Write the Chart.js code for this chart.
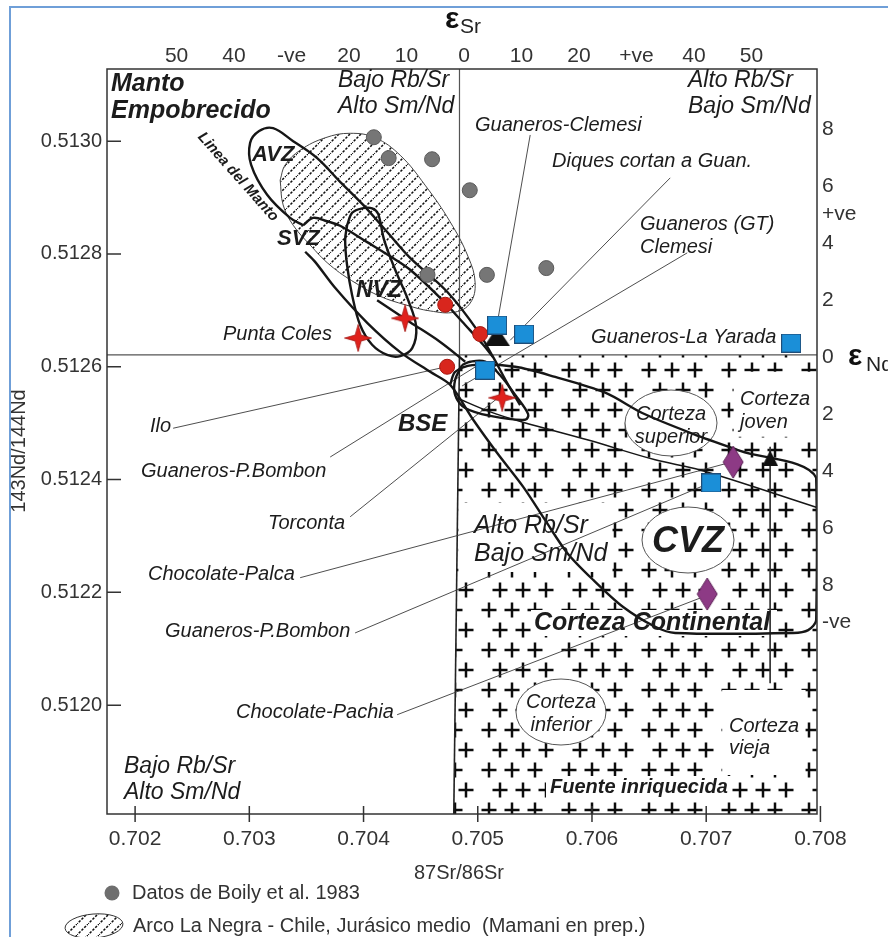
<!DOCTYPE html>
<html>
<head>
<meta charset="utf-8">
<script src="https://cdn.jsdelivr.net/npm/chart.js@4.4.1/dist/chart.umd.min.js"></script>
<style>
  html, body { margin: 0; padding: 0; background: #fff; }
  canvas { display: block; }
</style>
</head>
<body>
<canvas id="c" width="888" height="937"></canvas>
<script>
const FONT = '"Liberation Sans", Arial, Helvetica, sans-serif';
const INK = '#161616';

// axis ticks
const srTicks = [0.702, 0.703, 0.704, 0.705, 0.706, 0.707, 0.708];
const ndTicks = [0.5120, 0.5122, 0.5124, 0.5126, 0.5128, 0.5130];
const eSrTicks = [-50, -40, -30, -20, -10, 0, 10, 20, 30, 40, 50];
const eSrLabels = ['50', '40', '-ve', '20', '10', '0', '10', '20', '+ve', '40', '50'];
const eNdTicks = [8, 6, 5, 4, 2, 0, -2, -4, -6, -8, -9.3];
const eNdLabels = ['8', '6', '+ve', '4', '2', '0', '2', '4', '6', '8', '-ve'];

// samples (87Sr/86Sr, 143Nd/144Nd)
const boilySr = [0.70409, 0.70422, 0.70460, 0.70493, 0.70456, 0.70508, 0.70560];
const boilyNd = [0.513007, 0.512970, 0.512968, 0.512913, 0.512763, 0.512763, 0.512775];
const redDotSr = [0.704715, 0.705021, 0.704732];
const redDotNd = [0.512710, 0.512658, 0.512600];
const starSr = [0.703953, 0.704364, 0.705214];
const starNd = [0.512651, 0.512686, 0.512545];
const squareSr = [0.705170, 0.705406, 0.705065, 0.707744, 0.707044];
const squareNd = [0.512674, 0.512658, 0.512594, 0.512642, 0.512394];
const triSr = [0.705170, 0.707560];
const triNd = [0.512647, 0.512438];
const diamondSr = [0.707236, 0.707009];
const diamondNd = [0.512431, 0.512197];

// fields
const negraSr = [0.703270, 0.703296, 0.703384, 0.703532, 0.703708, 0.703926, 0.704145, 0.704364, 0.704583, 0.704802, 0.704934,
  0.704977, 0.704916, 0.704758, 0.704539, 0.704321, 0.704102, 0.703883, 0.703664, 0.703445, 0.703314, 0.703270];
const negraNd = [0.512931, 0.512887, 0.512851, 0.512816, 0.512780, 0.512749, 0.512725, 0.512710, 0.512699, 0.512697, 0.512713,
  0.512749, 0.512795, 0.512857, 0.512922, 0.512975, 0.513006, 0.513014, 0.513006, 0.512984, 0.512958, 0.512931];

const avzOuterSr = [0.703471, 0.703357, 0.703156, 0.703016, 0.703007, 0.703086, 0.703208, 0.703384, 0.703594, 0.703795,
  0.703997, 0.704207, 0.704408, 0.704732, 0.704995, 0.705135, 0.705258, 0.705371];
const avzOuterNd = [0.512851, 0.512864, 0.512905, 0.512958, 0.512997, 0.513018, 0.513023, 0.513000, 0.512970, 0.512928,
  0.512887, 0.512839, 0.512793, 0.512733, 0.512665, 0.512617, 0.512571, 0.512532];
const avzInnerSr = [0.703471, 0.703559, 0.703681, 0.703795, 0.704032, 0.704233, 0.704408, 0.704671, 0.704890, 0.705047, 0.705135];
const avzInnerNd = [0.512851, 0.512864, 0.512858, 0.512850, 0.512821, 0.512796, 0.512772, 0.512722, 0.512674, 0.512639, 0.512617];

const nvzSr = [0.703856, 0.703900, 0.703988, 0.704075, 0.704128, 0.704180, 0.704277, 0.704391, 0.704461, 0.704426,
  0.704321, 0.704207, 0.704075, 0.703970, 0.703900, 0.703856, 0.703839, 0.703856];
const nvzNd = [0.512851, 0.512873, 0.512881, 0.512881, 0.512871, 0.512825, 0.512772, 0.512718, 0.512671, 0.512633,
  0.512619, 0.512621, 0.512639, 0.512674, 0.512727, 0.512780, 0.512825, 0.512851];

const cvzSr = [0.703489, 0.703576, 0.703751, 0.704032, 0.704321, 0.704583, 0.704758, 0.704960, 0.705170, 0.705398,
  0.705590, 0.705783, 0.706011, 0.706273, 0.706553, 0.706729, 0.707762, 0.707893, 0.707963, 0.707963,
  0.707298, 0.706860, 0.706440, 0.706116, 0.705678, 0.705328, 0.704951, 0.704802, 0.704758];
const cvzNd = [0.512804, 0.512786, 0.512740, 0.512678, 0.512626, 0.512591, 0.512568, 0.512506, 0.512447, 0.512387,
  0.512328, 0.512270, 0.512222, 0.512174, 0.512139, 0.512128, 0.512128, 0.512133, 0.512151, 0.512403,
  0.512451, 0.512483, 0.512518, 0.512554, 0.512582, 0.512600, 0.512603, 0.512591, 0.512568];

const bseSr = [0.704863, 0.704802, 0.704802, 0.704890, 0.705109, 0.705415, 0.705441, 0.705328, 0.705196, 0.705065, 0.704934, 0.704863];
const bseNd = [0.512603, 0.512577, 0.512550, 0.512527, 0.512513, 0.512506, 0.512516, 0.512550, 0.512585, 0.512609, 0.512609, 0.512603];

const crustLineSr = [0.704802, 0.705109, 0.705389, 0.705967, 0.706553, 0.706948, 0.707963];
const crustLineNd = [0.512546, 0.512520, 0.512502, 0.512470, 0.512435, 0.512417, 0.512351];
const nvzTailSr = [0.704119, 0.704408, 0.704671, 0.704890];
const nvzTailNd = [0.512718, 0.512679, 0.512644, 0.512609];

// crust block and its blank patches
const crustSr = [0.70484, 0.70797, 0.70797, 0.70479, 0.70484];
const crustNd = [0.512621, 0.512621, 0.511807, 0.511807, 0.512621];
const jovenSr = [0.70724, 0.70797, 0.70797, 0.70724, 0.70724];
const jovenNd = [0.512591, 0.512591, 0.512476, 0.512476, 0.512591];
const viejaSr = [0.70714, 0.70787, 0.70787, 0.70714, 0.70714];
const viejaNd = [0.512027, 0.512027, 0.511876, 0.511876, 0.512027];
const altoSr = [0.70483, 0.70618, 0.70618, 0.70483, 0.70483];
const altoNd = [0.512359, 0.512359, 0.512236, 0.512236, 0.512359];

// reference lines
const chur = 0.512621;
const bulkSr = 0.70484;

// label leaders: start (label end) and end (sample)
const leadFromSr = [0.702333, 0.703708, 0.703883, 0.703445, 0.703926, 0.704294, 0.705459, 0.706685, 0.706834];
const leadFromNd = [0.512491, 0.512440, 0.512334, 0.512226, 0.512128, 0.511983, 0.513011, 0.512935, 0.512802];
const leadToSr = [0.704680, 0.705004, 0.705196, 0.707166, 0.706974, 0.706948, 0.705179, 0.705284, 0.704863];
const leadToNd = [0.512598, 0.512603, 0.512548, 0.512428, 0.512389, 0.512190, 0.512687, 0.512647, 0.512566];

// text on the diagram
const notes = [
  ['Manto', 111, 84, 'italic bold 25px'], ['Empobrecido', 111, 111, 'italic bold 25px'],
  ['Bajo Rb/Sr', 338, 81, 'italic 23px'], ['Alto Sm/Nd', 338, 107, 'italic 23px'],
  ['Alto Rb/Sr', 688, 81, 'italic 23px'], ['Bajo Sm/Nd', 688, 107, 'italic 23px'],
  ['Guaneros-Clemesi', 475, 125, 'italic 20px'], ['Diques cortan a Guan.', 552, 161, 'italic 20px'],
  ['Guaneros (GT)', 640, 224, 'italic 20px'], ['Clemesi', 640, 247, 'italic 20px'],
  ['Guaneros-La Yarada', 591, 337, 'italic 20px'], ['Punta Coles', 223, 334, 'italic 20px'],
  ['Ilo', 150, 426, 'italic 20px'], ['Guaneros-P.Bombon', 141, 471, 'italic 20px'],
  ['Torconta', 268, 523, 'italic 20px'], ['Chocolate-Palca', 148, 574, 'italic 20px'],
  ['Guaneros-P.Bombon', 165, 631, 'italic 20px'], ['Chocolate-Pachia', 236, 712, 'italic 20px'],
  ['Bajo Rb/Sr', 124, 767, 'italic 23px'], ['Alto Sm/Nd', 124, 793, 'italic 23px'],
  ['Alto Rb/Sr', 474, 526, 'italic 25px'], ['Bajo Sm/Nd', 474, 554, 'italic 25px'],
  ['BSE', 398, 424, 'italic bold 24px'], ['AVZ', 252, 155, 'italic bold 22px'],
  ['SVZ', 277, 239, 'italic bold 22px'], ['NVZ', 356, 291, 'italic bold 23px'],
  ['CVZ', 688, 542, 'italic bold 36px', 'center'], ['Corteza Continental', 534, 623, 'italic bold 25px'],
  ['Corteza', 671, 414, 'italic 20px', 'center'], ['superior', 671, 437, 'italic 20px', 'center'],
  ['Corteza', 740, 399, 'italic 20px'], ['joven', 740, 422, 'italic 20px'],
  ['Corteza', 561, 702, 'italic 20px', 'center'], ['inferior', 561, 725, 'italic 20px', 'center'],
  ['Corteza', 729, 726, 'italic 20px'], ['vieja', 729, 748, 'italic 20px'],
  ['Fuente inriquecida', 550, 787, 'italic bold 20px']
];
const rings = [[671, 423, 46, 33], [688, 540, 46, 33], [561, 712, 45, 33]];
const blanks = [[531, 610, 246, 26], [546, 776, 186, 22]];

const canvas = document.getElementById('c');
const ctx = canvas.getContext('2d');

function tile(w, h, paint) {
  const c = document.createElement('canvas');
  c.width = w; c.height = h;
  paint(c.getContext('2d'));
  return c;
}

const plusFill = ctx.createPattern(tile(80, 40, g => {
  g.strokeStyle = '#0c0c0c';
  g.lineWidth = 2.5;
  const plus = (x, y) => {
    g.beginPath();
    g.moveTo(x - 7.5, y); g.lineTo(x + 7.5, y);
    g.moveTo(x, y - 7.5); g.lineTo(x, y + 7.5);
    g.stroke();
  };
  [9, 32, 55].forEach(x => plus(x, 10));
  [20, 43, 66].forEach(x => plus(x, 30));
}), 'repeat');

const hatchFill = ctx.createPattern(tile(11, 11, g => {
  g.strokeStyle = '#111';
  g.lineWidth = 1.6;
  g.setLineDash([2.4, 1.5]);
  g.beginPath();
  g.moveTo(-1, 12); g.lineTo(12, -1);
  g.stroke();
}), 'repeat');

const starImg = tile(28, 28, g => {
  g.translate(14, 14);
  g.beginPath();
  for (let i = 0; i < 8; i++) {
    const a = -Math.PI / 2 + i * Math.PI / 4;
    const r = i % 2 ? 4.2 : 13.5;
    g.lineTo(r * Math.cos(a), r * Math.sin(a));
  }
  g.closePath();
  g.fillStyle = '#e0211c';
  g.fill();
  g.strokeStyle = '#a31410';
  g.lineWidth = 0.8;
  g.stroke();
});
const squareImg = tile(20, 19, g => {
  g.fillStyle = '#1b8fd8';
  g.fillRect(0.5, 0.5, 19, 18);
  g.strokeStyle = '#1f4d78';
  g.lineWidth = 1;
  g.strokeRect(0.5, 0.5, 19, 18);
});
const trapImg = tile(26, 12, g => {
  g.beginPath();
  g.moveTo(8, 0); g.lineTo(18, 0); g.lineTo(26, 12); g.lineTo(0, 12);
  g.closePath();
  g.fillStyle = '#111';
  g.fill();
});
const triImg = tile(16, 16, g => {
  g.beginPath();
  g.moveTo(8, 0); g.lineTo(16, 16); g.lineTo(0, 16);
  g.closePath();
  g.fillStyle = '#111';
  g.fill();
});
const diamondImg = tile(22, 34, g => {
  g.beginPath();
  g.moveTo(11, 1); g.lineTo(21, 17); g.lineTo(11, 33); g.lineTo(1, 17);
  g.closePath();
  g.fillStyle = '#8d3a85';
  g.fill();
  g.strokeStyle = '#5e2358';
  g.lineWidth = 1;
  g.stroke();
});

function pts(xs, ys) {
  return xs.map((x, i) => ({ x: x, y: ys[i] }));
}

function shape(label, xs, ys, opts) {
  return Object.assign({
    label: label,
    data: pts(xs, ys),
    showLine: true,
    pointRadius: 0,
    borderColor: INK,
    borderWidth: 2.4,
    tension: 0.35,
    fill: false,
    order: 50
  }, opts);
}

function marks(label, xs, ys, opts) {
  return Object.assign({
    label: label,
    data: pts(xs, ys),
    showLine: false,
    pointRadius: 8,
    borderWidth: 1
  }, opts);
}

const clear = 'rgba(0,0,0,0)';
const datasets = [
  shape('crust', crustSr, crustNd, { fill: 'shape', backgroundColor: plusFill, borderColor: clear, tension: 0, order: 100 }),
  shape('joven', jovenSr, jovenNd, { fill: 'shape', backgroundColor: '#fff', borderColor: clear, tension: 0, order: 95 }),
  shape('vieja', viejaSr, viejaNd, { fill: 'shape', backgroundColor: '#fff', borderColor: clear, tension: 0, order: 95 }),
  shape('alto', altoSr, altoNd, { fill: 'shape', backgroundColor: '#fff', borderColor: clear, tension: 0, order: 95 }),
  shape('negra', negraSr, negraNd, { fill: 'shape', backgroundColor: hatchFill, borderColor: '#444', borderWidth: 1, tension: 0.4, order: 90 }),
  shape('chur', [0.701754, 0.70797], [chur, chur], { borderColor: '#555', borderWidth: 1.2, tension: 0, order: 70 }),
  shape('bulk', [bulkSr, bulkSr], [chur, 0.513128], { borderColor: '#555', borderWidth: 1.2, tension: 0, order: 70 }),
  shape('crustEdge', [0.70484, 0.70479], [chur, 0.511807], { borderColor: '#222', borderWidth: 1.6, tension: 0, order: 70 }),
  shape('split', [0.70756, 0.70756], [0.512458, 0.512039], { borderColor: '#333', borderWidth: 1, tension: 0, order: 70 }),
  ...leadFromSr.map((s, i) => shape('lead' + i, [s, leadToSr[i]], [leadFromNd[i], leadToNd[i]],
    { borderColor: '#3a3a3a', borderWidth: 0.9, tension: 0, order: 60 })),
  shape('avzOuter', avzOuterSr, avzOuterNd),
  shape('avzInner', avzInnerSr, avzInnerNd),
  shape('nvz', nvzSr, nvzNd),
  shape('cvz', cvzSr, cvzNd, { tension: 0.3 }),
  shape('bse', bseSr, bseNd),
  shape('crustLine', crustLineSr, crustLineNd, { borderWidth: 1.5 }),
  shape('nvzTail', nvzTailSr, nvzTailNd),
  marks('boily', boilySr, boilyNd, { backgroundColor: '#767676', borderColor: '#5a5a5a', pointRadius: 7.5, order: 5 }),
  marks('redDot', redDotSr, redDotNd, { backgroundColor: '#d8261d', borderColor: '#a8170f', pointRadius: 7.5, order: 4 }),
  marks('square', squareSr, squareNd, { pointStyle: squareImg, order: 3 }),
  marks('tri', triSr, triNd, { pointStyle: [trapImg, triImg], order: 3 }),
  marks('diamond', diamondSr, diamondNd, { pointStyle: diamondImg, order: 3 }),
  marks('star', starSr, starNd, { pointStyle: starImg, order: 2 })
];

function put(g, text, x, y, font, align, color) {
  g.font = font + ' ' + FONT;
  g.textAlign = align || 'left';
  g.textBaseline = 'middle';
  g.fillStyle = color || '#1c1c1c';
  g.fillText(text, x, y);
}

const decor = {
  id: 'decor',
  afterDatasetDraw(chart, args) {
    if (chart.data.datasets[args.index].label !== 'negra') return;
    const g = chart.ctx;
    g.save();
    g.fillStyle = '#fff';
    blanks.forEach(([x, y, w, h]) => g.fillRect(x, y, w, h));
    rings.forEach(([cx, cy, rx, ry]) => {
      g.beginPath();
      g.ellipse(cx, cy, rx, ry, 0, 0, Math.PI * 2);
      g.fillStyle = '#fff';
      g.fill();
      g.strokeStyle = '#555';
      g.lineWidth = 1;
      g.stroke();
    });
    g.restore();
  },
  afterDraw(chart) {
    const g = chart.ctx;
    const a = chart.chartArea;
    const { x, y } = chart.scales;
    g.save();

    // plot frame and inner ticks
    g.strokeStyle = '#333';
    g.lineWidth = 1.5;
    g.strokeRect(a.left, a.top, a.right - a.left, a.bottom - a.top);
    g.beginPath();
    x.ticks.forEach(t => {
      const px = x.getPixelForValue(t.value);
      g.moveTo(px, a.bottom - 8); g.lineTo(px, a.bottom + 8);
    });
    y.ticks.forEach(t => {
      const py = y.getPixelForValue(t.value);
      g.moveTo(a.left, py); g.lineTo(a.left + 14, py);
    });
    g.stroke();

    notes.forEach(([t, nx, ny, f, al]) => put(g, t, nx, ny, f, al));

    // Linea del Manto
    g.save();
    g.translate(238, 177);
    g.rotate(0.846);
    put(g, 'Linea del Manto', 0, 0, 'italic bold 15px', 'center');
    g.restore();

    // epsilon headers
    put(g, 'ε', 445, 20, 'bold 30px', 'left', '#111');
    put(g, 'Sr', 460, 27, '21px', 'left', '#222');
    put(g, 'ε', 848, 357, 'bold 30px', 'left', '#111');
    put(g, 'Nd', 866, 365, '21px', 'left', '#222');

    // axis titles
    put(g, '87Sr/86Sr', 459, 873, '20px', 'center', '#333');
    g.save();
    g.translate(19, 451);
    g.rotate(-Math.PI / 2);
    put(g, '143Nd/144Nd', 0, 0, '20px', 'center', '#333');
    g.restore();

    // legend
    g.beginPath();
    g.arc(112, 893, 7.5, 0, Math.PI * 2);
    g.fillStyle = '#6e6e6e';
    g.fill();
    put(g, 'Datos de Boily et al. 1983', 132, 893, '20px', 'left', '#333');
    g.beginPath();
    g.ellipse(94, 926, 29, 12, -0.08, 0, Math.PI * 2);
    g.fillStyle = '#fff';
    g.fill();
    g.fillStyle = hatchFill;
    g.fill();
    g.strokeStyle = '#333';
    g.lineWidth = 1;
    g.stroke();
    put(g, 'Arco La Negra - Chile, Jurásico medio  (Mamani en prep.)', 133, 926, '20px', 'left', '#333');

    // outer blue frame
    g.strokeStyle = '#6f9fd8';
    g.lineWidth = 2;
    g.beginPath();
    g.moveTo(10, 940); g.lineTo(10, 7); g.lineTo(890, 7);
    g.stroke();
    g.restore();
  }
};

const tickFont = { family: FONT, size: 21 };

new Chart(ctx, {
  type: 'line',
  data: { datasets: datasets },
  plugins: [decor],
  options: {
    responsive: false,
    animation: false,
    events: [],
    layout: { padding: 0 },
    plugins: { legend: { display: false }, tooltip: { enabled: false } },
    scales: {
      x: {
        type: 'linear', position: 'bottom', min: 0.701754, max: 0.70797,
        grid: { display: false, drawTicks: false }, border: { display: false },
        afterBuildTicks: s => { s.ticks = srTicks.map(v => ({ value: v })); },
        afterFit: s => { s.height = 123; },
        ticks: { font: tickFont, color: '#333', padding: 13, maxRotation: 0, autoSkip: false, callback: v => v.toFixed(3) }
      },
      y: {
        type: 'linear', position: 'left', min: 0.511807, max: 0.513128,
        grid: { display: false, drawTicks: false }, border: { display: false },
        afterBuildTicks: s => { s.ticks = ndTicks.map(v => ({ value: v })); },
        afterFit: s => { s.width = 107; },
        ticks: { font: { family: FONT, size: 20 }, color: '#333', padding: 5, autoSkip: false, callback: v => v.toFixed(4) }
      },
      eSr: {
        type: 'linear', position: 'top', min: -62.1, max: 61.4,
        grid: { display: false, drawTicks: false }, border: { display: false },
        afterBuildTicks: s => { s.ticks = eSrTicks.map(v => ({ value: v })); },
        afterFit: s => { s.height = 69; },
        ticks: { font: tickFont, color: '#333', padding: 0, maxRotation: 0, autoSkip: false, callback: (v, i) => eSrLabels[i] }
      },
      eNd: {
        type: 'linear', position: 'right', min: -16.04, max: 10.105,
        grid: { display: false, drawTicks: false }, border: { display: false },
        afterBuildTicks: s => { s.ticks = eNdTicks.map(v => ({ value: v })); },
        afterFit: s => { s.width = 71; },
        ticks: { font: tickFont, color: '#333', padding: 5, autoSkip: false, callback: (v, i) => eNdLabels[i] }
      }
    }
  }
});
</script>
</body>
</html>
